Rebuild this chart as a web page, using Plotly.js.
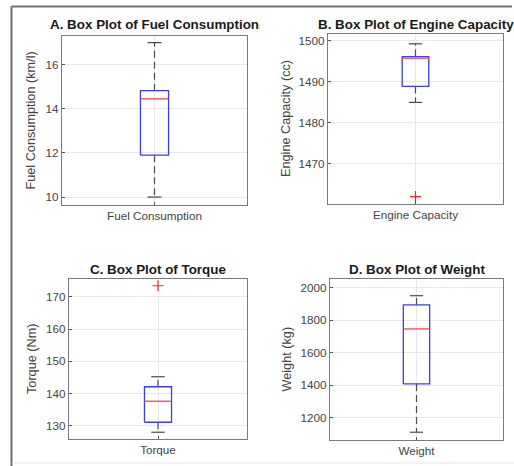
<!DOCTYPE html>
<html>
<head>
<meta charset="utf-8">
<script src="https://cdn.plot.ly/plotly-3.0.1.min.js"></script>
<style>html,body{margin:0;padding:0;background:#fff}#chart{width:514px;height:466px}</style>
</head>
<body>
<div id="chart"></div>
<script>
// ---- data ----
var panelTitles = ["A. Box Plot of Fuel Consumption", "B. Box Plot of Engine Capacity", "C. Box Plot of Torque", "D. Box Plot of Weight"];
var categories = ["Fuel Consumption", "Engine Capacity", "Torque", "Weight"];
var yTitles = ["Fuel Consumption (km/l)", "Engine Capacity (cc)", "Torque (Nm)", "Weight (kg)"];
var lowerWhisker = [10, 1485, 128, 1110];
var q1Values = [11.9, 1488.9, 131.1, 1408];
var medianValues = [14.45, 1495.8, 137.6, 1747];
var q3Values = [14.82, 1496.2, 142.1, 1895];
var upperWhisker = [17, 1499.3, 145.2, 1952];
var outliers = [[], [1462], [173.4], []];
var yTickVals = [[10, 12, 14, 16], [1470, 1480, 1490, 1500], [130, 140, 150, 160, 170], [1200, 1400, 1600, 1800, 2000]];
var yRanges = [[9.64, 17.3], [1460.2, 1501.7], [125.9, 175.5], [1062, 2055]];

// ---- layout geometry (pixels in a 514x466 figure) ----
var W = 514, H = 466;
var boxesPx = [[62, 247, 36, 205], [328, 503, 34, 204], [69, 247, 279, 439], [330, 503, 279, 440]];
var titleY = [25, 25, 269, 269];
var yTitleX = [31, 286, 32, 286];
var halfBox = 0.076, halfCap = 0.038;

var traces = [];
var layout = {
  width: W, height: H, margin: {l: 0, r: 0, t: 0, b: 0},
  paper_bgcolor: "#fff", plot_bgcolor: "#fff", showlegend: false,
  font: {family: "Liberation Sans, Arial, sans-serif", color: "#444", size: 11.7},
  annotations: [], shapes: []
};

for (var i = 0; i < 4; i++) {
  var n = i + 1, xa = "x" + (n === 1 ? "" : n), ya = "y" + (n === 1 ? "" : n);
  var b = boxesPx[i];
  layout["xaxis" + (n === 1 ? "" : n)] = {
    domain: [b[0] / W, b[1] / W], range: [0.5, 1.5], anchor: ya,
    tickvals: [1], ticktext: [categories[i]], ticks: "inside", ticklen: 3, tickcolor: "#555",
    showgrid: true, gridcolor: "#e8e8e8", zeroline: false,
    showline: true, mirror: true, linecolor: "#7a7a7a", linewidth: 1.2,
    tickfont: {size: 11.7, color: "#444"}, fixedrange: true
  };
  layout["yaxis" + (n === 1 ? "" : n)] = {
    domain: [1 - b[3] / H, 1 - b[2] / H], range: yRanges[i], anchor: xa,
    tickvals: yTickVals[i], ticks: "inside", ticklen: 3, tickcolor: "#555",
    showgrid: true, gridcolor: "#e8e8e8", zeroline: false,
    showline: true, mirror: true, linecolor: "#7a7a7a", linewidth: 1.2,
    tickfont: {size: 11.7, color: "#444"}, fixedrange: true
  };
  // whiskers (dashed)
  traces.push({type: "scatter", mode: "lines", xaxis: xa, yaxis: ya, hoverinfo: "skip",
    x: [1, 1, null, 1, 1], y: [q3Values[i], upperWhisker[i], null, q1Values[i], lowerWhisker[i]],
    line: {color: "#4a4a4a", width: 1.2, dash: "7px,4px"}});
  // caps
  traces.push({type: "scatter", mode: "lines", xaxis: xa, yaxis: ya, hoverinfo: "skip",
    x: [1 - halfCap, 1 + halfCap, null, 1 - halfCap, 1 + halfCap],
    y: [upperWhisker[i], upperWhisker[i], null, lowerWhisker[i], lowerWhisker[i]],
    line: {color: "#4a4a4a", width: 1.2}});
  // box
  traces.push({type: "scatter", mode: "lines", xaxis: xa, yaxis: ya,
    x: [1 - halfBox, 1 + halfBox, 1 + halfBox, 1 - halfBox, 1 - halfBox],
    y: [q1Values[i], q1Values[i], q3Values[i], q3Values[i], q1Values[i]],
    line: {color: "#3a3aff", width: 1.3}});
  // median
  traces.push({type: "scatter", mode: "lines", xaxis: xa, yaxis: ya,
    x: [1 - halfBox, 1 + halfBox], y: [medianValues[i], medianValues[i]],
    line: {color: "#ff4040", width: 1.3}});
  // outliers
  if (outliers[i].length) {
    traces.push({type: "scatter", mode: "markers", xaxis: xa, yaxis: ya,
      x: outliers[i].map(function () { return 1; }), y: outliers[i],
      marker: {symbol: "cross-thin", size: 8, line: {color: "#ff2020", width: 1.2}}});
  }
  layout.annotations.push({text: "<b>" + panelTitles[i] + "</b>", xref: "paper", yref: "paper",
    x: (b[0] + b[1]) / 2 / W, y: 1 - titleY[i] / H, showarrow: false, xanchor: "center", yanchor: "middle",
    font: {size: 13.4, color: "#1a1a1a"}});
  layout.annotations.push({text: yTitles[i], xref: "paper", yref: "paper", textangle: -90,
    x: yTitleX[i] / W, y: 1 - (b[2] + b[3]) / 2 / H, showarrow: false, xanchor: "center", yanchor: "middle",
    font: {size: 12.7, color: "#444"}});
}
// outer frame
layout.shapes.push({type: "line", xref: "paper", yref: "paper", x0: 11.5 / W, x1: 11.5 / W, y0: 0, y1: 1 - 6.5 / H, line: {color: "#6e6e6e", width: 2}});
layout.shapes.push({type: "line", xref: "paper", yref: "paper", x0: 11.5 / W, x1: 512 / W, y0: 1 - 6.5 / H, y1: 1 - 6.5 / H, line: {color: "#6e6e6e", width: 2}});
layout.shapes.push({type: "line", xref: "paper", yref: "paper", x0: 12 / W, x1: 1, y0: 1 - 463 / H, y1: 1 - 463 / H, line: {color: "#e6e6e6", width: 1}});

Plotly.newPlot("chart", traces, layout, {staticPlot: true, displayModeBar: false});
</script>
</body>
</html>
